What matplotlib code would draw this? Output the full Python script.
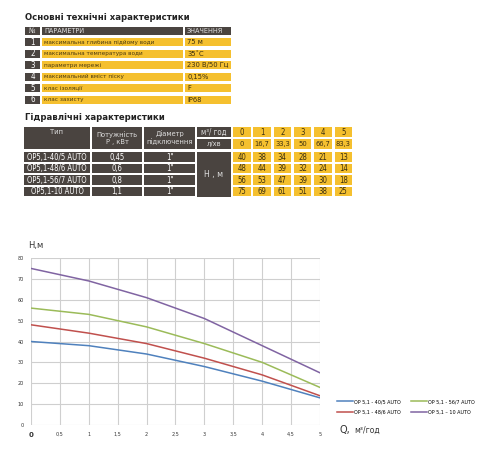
import matplotlib
matplotlib.use("Agg")
import matplotlib.pyplot as plt
from matplotlib.patches import Rectangle

# ---- data ----
param_names = ["максимальна глибина підйому води", "максимальна температура води",
               "параметри мережі", "максимальний вміст піску", "клас ізоляції", "клас захисту"]
param_values = ["75 м", "35˚С", "230 В/50 Гц", "0,15%", "F", "IP68"]

pump_types = ["OP5,1-40/5 AUTO", "OP5,1-48/6 AUTO", "OP5,1-56/7 AUTO", "OP5,1-10 AUTO"]
pump_power = ["0,45", "0,6", "0,8", "1,1"]
pump_diam = ["1\"", "1\"", "1\"", "1\""]
flow_m3h = [0, 1, 2, 3, 4, 5]
flow_lmin = ["0", "16,7", "33,3", "50", "66,7", "83,3"]
head_40 = [40, 38, 34, 28, 21, 13]
head_48 = [48, 44, 39, 32, 24, 14]
head_56 = [56, 53, 47, 39, 30, 18]
head_75 = [75, 69, 61, 51, 38, 25]
heads = [head_40, head_48, head_56, head_75]

legend_names = ["OP 5,1 - 40/5 AUTO", "OP 5,1 - 48/6 AUTO", "OP 5,1 - 56/7 AUTO", "OP 5,1 – 10 AUTO"]
line_colors = ["#4f81bd", "#c0504d", "#9bbb59", "#8064a2"]
xticks = [0, 0.5, 1, 1.5, 2, 2.5, 3, 3.5, 4, 4.5, 5]
xtick_labels = ["0", "0,5", "1", "1,5", "2", "2,5", "3", "3,5", "4", "4,5", "5"]
yticks = [0, 10, 20, 30, 40, 50, 60, 70, 80]

DARK = "#4a4440"
YELLOW = "#f5c02f"
NARROW = dict(family="DejaVu Sans", fontstretch="condensed")

fig = plt.figure(figsize=(5, 4.5), dpi=100)

# overlay in pixel coords for the tables
ov = fig.add_axes([0, 0, 1, 1])
ov.set_xlim(0, 500)
ov.set_ylim(450, 0)
ov.axis("off")


def cell(x, y, w, h, color, txt="", tcolor="white", size=5.0, ha="center"):
    ov.add_patch(Rectangle((x, y), w, h, facecolor=color, edgecolor="none"))
    if txt:
        tx = x + w / 2 if ha == "center" else x + 2
        ov.text(tx, y + h / 2 + 0.3, txt, color=tcolor, fontsize=size, ha=ha, va="center",
                **NARROW)


# table 1
ov.text(25, 17, "Основні технічні характеристики", fontsize=6.8, fontweight="bold",
        va="center", color="#222222", **NARROW)
top1, step1, h1 = 26.5, 11.5, 8
cell(25, top1, 15, h1, DARK, "№", "#dddddd", 5)
cell(42, top1, 141, h1, DARK, "ПАРАМЕТРИ", "#dddddd", 5.2, ha="left")
cell(185, top1, 46, h1, DARK, "ЗНАЧЕННЯ", "#dddddd", 5.2, ha="left")
for i, (nm, val) in enumerate(zip(param_names, param_values)):
    y = top1 + step1 * (i + 1)
    cell(25, y, 15, h1, DARK, str(i + 1), "white", 5.8)
    cell(42, y, 141, h1, YELLOW, nm, "#4a3a10", 4.6, ha="left")
    cell(185, y, 46, h1, YELLOW, val, "#3a2e10", 5.4, ha="left")

# table 2
ov.text(25, 118, "Гідравлічні характеристики", fontsize=6.8, fontweight="bold",
        va="center", color="#222222", **NARROW)
cell(24, 127, 66, 22, DARK)
ov.text(57, 132, "Тип", color="#dddddd", fontsize=5.4, ha="center", va="center", **NARROW)
cell(92, 127, 50, 22, DARK)
ov.text(117, 138, "Потужність\nР , кВт", color="#dddddd", fontsize=5.4, ha="center",
        va="center", linespacing=1.05, **NARROW)
cell(144, 127, 51, 22, DARK)
ov.text(169.5, 138, "Діаметр\nпідключення", color="#dddddd", fontsize=5.4, ha="center",
        va="center", linespacing=1.05, **NARROW)
cell(197, 127, 34, 10, DARK, "м³/ год", "#dddddd", 5.6)
cell(197, 139, 34, 10, DARK, "л/хв", "#dddddd", 5.4)
cell(197, 152, 34, 44.5, DARK, "Н , м", "#dddddd", 6.2)
col_x0, col_step, col_w = 233, 20.3, 17.5
for j, (q, ql) in enumerate(zip(flow_m3h, flow_lmin)):
    x = col_x0 + col_step * j
    cell(x, 127, col_w, 10, YELLOW, str(q), "#3a2e10", 5.6)
    cell(x, 139, col_w, 10, YELLOW, ql, "#3a2e10", 5.4)
row_top, row_step, row_h = 152, 11.5, 9.5
for i in range(len(pump_types)):
    y = row_top + row_step * i
    cell(24, y, 66, row_h, DARK, pump_types[i], "white", 5.5)
    cell(92, y, 50, row_h, DARK, pump_power[i], "white", 5.5)
    cell(144, y, 51, row_h, DARK, pump_diam[i], "white", 5.5)
    for j, hv in enumerate(heads[i]):
        x = col_x0 + col_step * j
        cell(x, y, col_w, row_h, YELLOW, str(hv), "#3a2e10", 5.6)

# chart
ax = fig.add_axes([31 / 500, 1 - 425 / 450, 289 / 500, 167 / 450])
for hv, nm, c in zip(heads, legend_names, line_colors):
    ax.plot(flow_m3h, hv, color=c, lw=1.1, label=nm)
ax.set_xlim(0, 5)
ax.set_ylim(0, 80)
ax.set_xticks(xticks)
ax.set_xticklabels(xtick_labels)
ax.set_yticks(yticks)
ax.grid(True, color="#cfcfcf", lw=0.8)
ax.set_axisbelow(True)
for s in ax.spines.values():
    s.set_visible(False)
ax.tick_params(length=0, labelsize=3.5, colors="#333333", pad=5)
ax.get_xticklabels()[0].set_fontsize(5)
ax.get_xticklabels()[0].set_fontweight("bold")

fig.text(28 / 500, 1 - 246 / 450, "Н,м", fontsize=6, va="center", color="#333333")
fig.text(340 / 500, 1 - 430 / 450, "Q,", fontsize=7, va="center", color="#333333")
fig.text(354 / 500, 1 - 430 / 450, "м³/год", fontsize=5.5, va="center", color="#333333")

ax.legend(loc="upper left", bbox_to_anchor=(337 / 500, 1 - 399 / 450),
          bbox_transform=fig.transFigure, ncol=2, frameon=False, fontsize=3.5,
          handlelength=3.2, handletextpad=0.2, columnspacing=2.2, labelspacing=1.2,
          borderaxespad=0, borderpad=0)

fig.savefig("out.png", dpi=100)
